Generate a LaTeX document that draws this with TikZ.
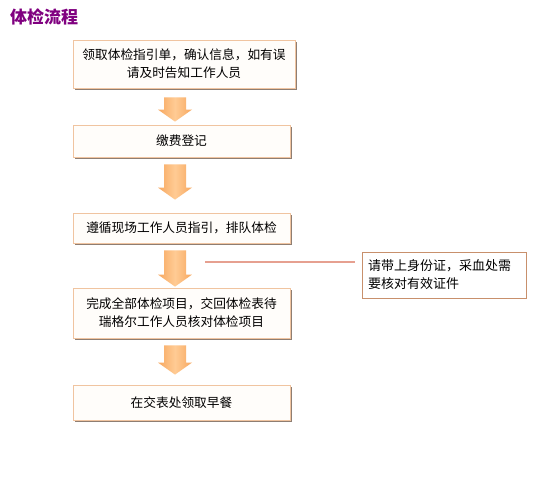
\documentclass[tikz,border=0pt]{standalone}
\usepackage{fontspec}
\setmainfont{Noto Sans CJK SC}
\newfontfamily\cjk{Noto Sans CJK SC}
\usetikzlibrary{calc}
\definecolor{titlepurple}{HTML}{800080}
\definecolor{boxborder}{HTML}{F0C4A0}
\definecolor{boxshadow}{HTML}{8F7E72}
\definecolor{boxfill}{HTML}{FFFDFA}
\definecolor{sideborder}{HTML}{C8906C}
\definecolor{arrowedge}{HTML}{F7A860}
\definecolor{arrowmid}{HTML}{FFCB94}
\definecolor{linkline}{HTML}{E6A090}
\tikzset{
  flowbox/.style={draw=boxborder, line width=0.8pt, fill=boxfill, inner sep=0pt,
    font=\cjk\fontsize{12.7}{18}\selectfont, align=center, text=black},
  sidebox/.style={draw=sideborder, line width=0.8pt, fill=white, inner sep=0pt,
    font=\cjk\fontsize{13}{18}\selectfont, align=left, text=black},
  titletext/.style={font=\cjk\bfseries\fontsize{17}{20}\selectfont, text=titlepurple, inner sep=0pt, anchor=west},
}
\newcommand\shadowbox[5]{% name, x1, y1, x2, y2 ; text follows
  \fill[boxshadow] (#2+2,#3+2) rectangle (#4+2,#5+2);
  \node[flowbox, minimum width=#4-#2, minimum height=#5-#3] (#1) at ({(#2+#4)/2},{(#3+#5)/2})}
\newcommand\flowarrow[2]{% from coordinate #1 (top) to #2 (tip)
  \shade[left color=arrowedge, right color=arrowedge, middle color=arrowmid]
    ($(#1)+(-11,0)$) -- ($(#1)+(11,0)$) -- ($(#2)+(11,-12)$) -- ($(#2)+(17,-12)$)
    -- (#2) -- ($(#2)+(-17,-12)$) -- ($(#2)+(-11,-12)$) -- cycle;}
\begin{document}
\begin{tikzpicture}[x=1pt,y=-1pt]
\useasboundingbox (0,0) rectangle (559,484);
\fill[white] (0,0) rectangle (559,484);
\node[titletext] (title) at (10,16.5) {体检流程};
\shadowbox{b1}{73}{40}{295}{88}{领取体检指引单，确认信息，如有误\\请及时告知工作人员};
\shadowbox{b2}{73}{125}{290}{157}{缴费登记};
\shadowbox{b3}{73}{213}{290}{243}{遵循现场工作人员指引，排队体检};
\shadowbox{b4}{73}{288}{290}{338}{完成全部体检项目，交回体检表待\\瑞格尔工作人员核对体检项目};
\shadowbox{b5}{73}{385}{290}{420}{在交表处领取早餐};
\node[sidebox, minimum width=164, minimum height=46, text width=152] (side) at (444,275) {请带上身份证，采血处需\\要核对有效证件};
% arrows
\coordinate (a1s) at ($(b1.south)+(-9,9)$);
\coordinate (a1e) at ($(b2.north)+(-6.5,-3)$);
\coordinate (a2s) at ($(b2.south)+(-6.5,7)$);
\coordinate (a2e) at ($(b3.north)+(-6.5,-13)$);
\coordinate (a3s) at ($(b3.south)+(-6.5,7)$);
\coordinate (a3e) at ($(b4.north)+(-6.5,-1)$);
\coordinate (a4s) at ($(b4.south)+(-6.5,7)$);
\coordinate (a4e) at ($(b5.north)+(-6.5,-10)$);
\flowarrow{a1s}{a1e}
\flowarrow{a2s}{a2e}
\flowarrow{a3s}{a3e}
\flowarrow{a4s}{a4e}
% link line
\coordinate (lk) at (205,262);
\coordinate (lkend) at ($(side.west |- lk)+(-7,0)$);
\draw[linkline, line width=1.2pt] (lk) -- (lkend);
\end{tikzpicture}
\end{document}
